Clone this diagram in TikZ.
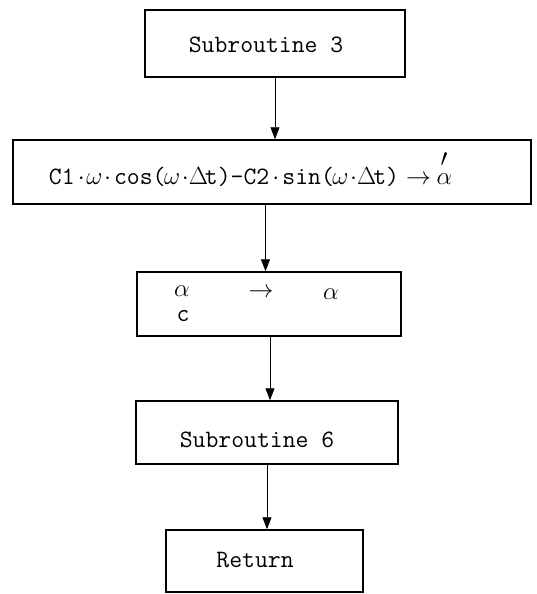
\documentclass[tikz,border=0pt]{standalone}
\usetikzlibrary{arrows.meta}
\newcommand{\mchar}[1]{\makebox[0.525em]{$#1$}}
\begin{document}
\begin{tikzpicture}[x=1pt,y=-1pt,
  box/.style={draw, line width=1.5pt, inner sep=0pt},
  txt/.style={inner sep=0pt, font=\fontsize{25}{30}\selectfont\ttfamily},
  conn/.style={line width=0.9pt, -{Triangle[width=9pt,length=12pt]}}]
\useasboundingbox (0,0) rectangle (537,594);
% boxes
\node[box, minimum width=260pt, minimum height=67pt] (b1) at (275,43.5) {};
\node[box, minimum width=518pt, minimum height=64pt] (b2) at (272,172) {};
\node[box, minimum width=264pt, minimum height=64pt] (b3) at (269,304) {};
\node[box, minimum width=262pt, minimum height=63pt] (b4) at (267,432.5) {};
\node[box, minimum width=197pt, minimum height=62pt] (b5) at (264.5,561) {};
% texts
\node[txt] (t1) at (266,45) {Subroutine 3};
\node[txt] (t2) at (250,177) {C1\mchar{\cdot}\mchar{\omega}\mchar{\cdot}cos(\mchar{\omega}\mchar{\cdot}\mchar{\Delta}t)-C2\mchar{\cdot}sin(\mchar{\omega}\mchar{\cdot}\mchar{\Delta}t) \mchar{\rightarrow} \mchar{\alpha}};
\node[txt] (t2p) at (444,160) {$\prime$};
\node[txt] (t3a) at (182,291) {$\alpha$};
\node[txt] (t3c) at (183,316) {c};
\node[txt] (t3r) at (261,293) {$\rightarrow$};
\node[txt] (t3b) at (331,294) {$\alpha$};
\node[txt] (t4) at (257,440) {Subroutine 6};
\node[txt] (t5) at (255,560) {Return};
% connectors
\draw[conn] (b1.south -| 275,0) -- (b2.north -| 275,0);
\draw[conn] (b2.south -| 265.5,0) -- (b3.north -| 265.5,0);
\draw[conn] (b3.south -| 270,0) -- (b4.north -| 270,0);
\draw[conn] (b4.south -| 267,0) -- (b5.north -| 267,0);
\end{tikzpicture}
\end{document}
